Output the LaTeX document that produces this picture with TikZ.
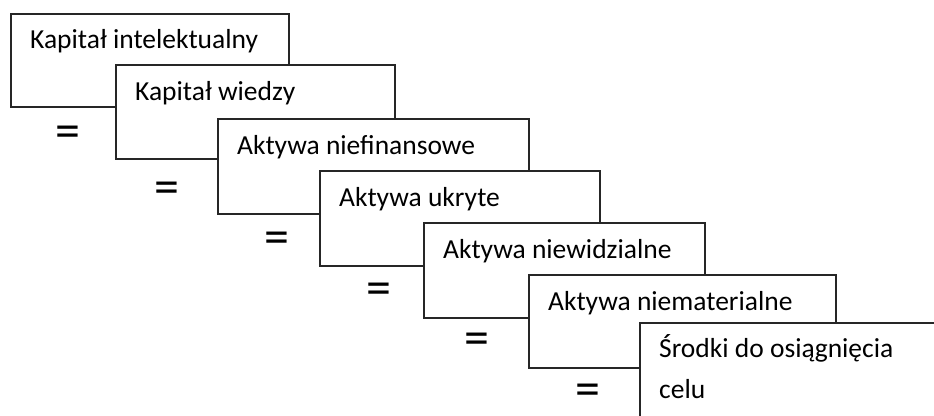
\documentclass[tikz,border=0pt]{standalone}
\usepackage{fontspec}
\setmainfont{Carlito}
\tikzset{>=stealth}
\tikzset{box/.style={draw=black!85, line width=1.6pt, fill=white, anchor=north west, inner sep=0pt},
  lbl/.style={anchor=base west, inner sep=0pt, font=\fontsize{27.5}{39}\selectfont, align=left},
  eq/.style={inner sep=0pt, yshift=-4pt, font=\fontsize{50}{50}\selectfont}}

\begin{document}
\begin{tikzpicture}[x=1pt,y=-1pt]
\useasboundingbox (0,0) rectangle (934,415);
\clip (0,0) rectangle (934,415);
\node[box, minimum width=278pt, minimum height=93pt] (b1) at (10,13) {};
\node[lbl] (t1) at ([shift={(20,35)}]b1.north west) {Kapitał intelektualny};
\node[box, minimum width=279pt, minimum height=94pt] (b2) at (115,64) {};
\node[lbl] (t2) at ([shift={(20,36)}]b2.north west) {Kapitał wiedzy};
\node[box, minimum width=311pt, minimum height=95pt] (b3) at (217,118) {};
\node[lbl] (t3) at ([shift={(20,36)}]b3.north west) {Aktywa niefinansowe};
\node[box, minimum width=280pt, minimum height=95pt] (b4) at (319,170) {};
\node[lbl] (t4) at ([shift={(20,36)}]b4.north west) {Aktywa ukryte};
\node[box, minimum width=281pt, minimum height=95pt] (b5) at (423,222) {};
\node[lbl] (t5) at ([shift={(20,36)}]b5.north west) {Aktywa niewidzialne};
\node[box, minimum width=307pt, minimum height=93pt] (b6) at (528,274) {};
\node[lbl] (t6) at ([shift={(20,36)}]b6.north west) {Aktywa niematerialne};
\node[box, minimum width=320pt, minimum height=110pt] (b7) at (639,322) {};
\node[lbl] (t7) at ([shift={(20,76)}]b7.north west) {Środki do osiągnięcia\\[2pt]celu};
% znaki rownosci
\foreach \i/\x/\y in {1/68/133, 2/167/189, 3/277/239, 4/379/290, 5/477/340, 6/588/391}
\node[eq] (eq\i) at (\x,\y) {=};
\end{tikzpicture}
\end{document}
